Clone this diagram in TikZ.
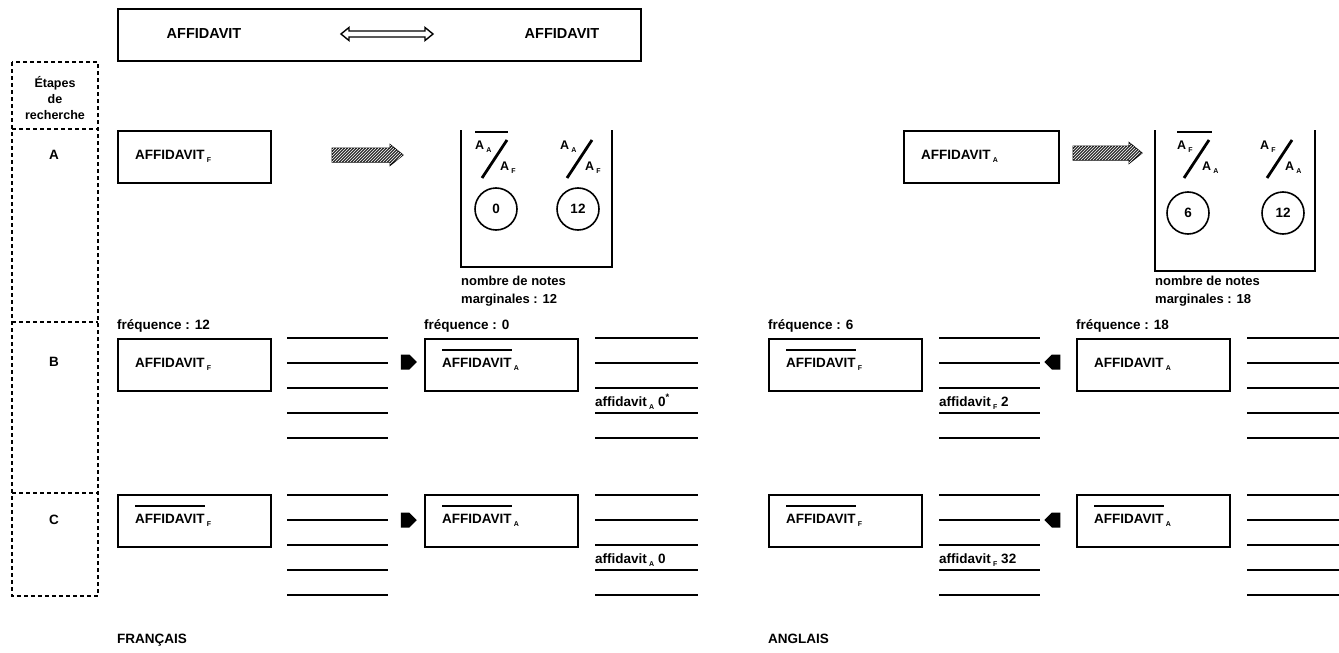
\documentclass[tikz,border=0pt]{standalone}
\usepackage{fontspec}
\setmainfont{Liberation Sans}
\usepackage{tikz}
\usetikzlibrary{shapes.arrows,patterns,positioning}
\newcommand{\sbs}[1]{\,\raisebox{-0.5ex}{\fontsize{7}{8}\selectfont #1}}
\newcommand{\barre}[1]{\setbox0\hbox{#1}\rlap{\rule[\dimexpr\ht0+7pt\relax]{\wd0}{1.3pt}}\box0}
\newcommand{\fiches}[3]{\foreach \k in {0,...,4} {\draw[fiche] (#1,#2+25*\k) -- (#3,#2+25*\k);}}
\newcommand{\rapport}[5]{%
	\node[lettre] (#5h) at (#1,#2) {A\sbs{#3}};
	\draw[oblique] (#1+7,#2+31) -- (#1+32,#2-7);
	\node[lettre] (#5b) at (#1+25,#2+21) {A\sbs{#4}};}
\newcommand{\hachee}[3]{\draw[hachure] (#1,#3-7) -- (#2-13,#3-7) -- (#2-13,#3-10.5) -- (#2,#3) -- (#2-13,#3+10.5) -- (#2-13,#3+7) -- (#1,#3+7) -- cycle;}
\tikzset{
	boite/.style={draw, line width=2.4pt, minimum width=153pt, minimum height=52pt, inner sep=0pt, anchor=north west},
	texte/.style={inner sep=0pt, anchor=base west},
	lettre/.style={inner sep=0pt, anchor=west, font=\bfseries\fontsize{12.5}{14}\selectfont},
	fiche/.style={line width=2.5pt},
	oblique/.style={line width=2.8pt},
	cadre/.style={line width=2.4pt},
	pointille/.style={line width=1.4pt, dash pattern=on 4pt off 3pt},
	rond/.style={draw, circle, line width=1.6pt, minimum size=42pt, inner sep=0pt},
	hachure/.style={draw, line width=1pt, fill=black!80, postaction={pattern=north east lines, pattern color=white}},
	fleche/.style={single arrow, fill, minimum height=16pt, minimum width=15pt, single arrow head extend=0pt, inner sep=0pt}
}
\begin{document}
\begin{tikzpicture}[x=1pt, y=-1pt, font=\bfseries\fontsize{13.5}{16}\selectfont]
		\useasboundingbox (0,0) rectangle (1339,653);
		% Title
		\node[boite, minimum width=523pt] (titre) at (117,8) {};
		\node[font=\bfseries\fontsize{14.5}{16}\selectfont] (motF) at (204,34) {AFFIDAVIT};
		\node[font=\bfseries\fontsize{14.5}{16}\selectfont] (motA) at (562,34) {AFFIDAVIT};
		\draw[line width=1.4pt, fill=white] (341,34) -- (349,27.5) -- (349,31) -- (425,31) -- (425,27.5) -- (433,34) -- (425,40.5) -- (425,37) -- (349,37) -- (349,40.5) -- cycle;
		% Research steps
		\draw[pointille] (12,62) rectangle (98,596);
		\foreach \y in {129,322,493} \draw[pointille] (12,\y) -- (98,\y);
		\node[align=center, font=\bfseries\fontsize{12.5}{16}\selectfont] (etapes) at (55,98) {Étapes\\de\\recherche};
		\node (etA) at (54,155) {A};
		\node (etB) at (54,362) {B};
		\node (etC) at (54,520) {C};
		% Step A, French
		\node[boite] (bAF) at (117,130) {};
		\node[texte] (tAF) at ([shift={(18,29)}]bAF.north west) {AFFIDAVIT\sbs{F}};
		\hachee{332}{403}{155}
		\draw[cadre] (461,130) -- (461,267) -- (612,267) -- (612,130);
		\draw[line width=1.5pt] (475,132) -- (508,132);
		\rapport{475}{147}{A}{F}{rA}
		\rapport{560}{147}{A}{F}{rB}
		\node[rond] (nAF) at (496,209) {0};
		\node[rond] (nAFb) at (578,209) {12};
		\node[texte, align=left, font=\bfseries\fontsize{13}{18}\selectfont] (noteF) at (461,303) {nombre de notes\\marginales : 12};
		% Step A, English
		\node[boite, minimum width=155pt] (bAA) at (903,130) {};
		\node[texte] (tAA) at ([shift={(18,29)}]bAA.north west) {AFFIDAVIT\sbs{A}};
		\hachee{1073}{1142}{153}
		\draw[cadre] (1155,130) -- (1155,271) -- (1315,271) -- (1315,130);
		\draw[line width=1.5pt] (1177,132) -- (1212,132);
		\rapport{1177}{147}{F}{A}{rC}
		\rapport{1260}{147}{F}{A}{rD}
		\node[rond] (nAA) at (1188,213) {6};
		\node[rond] (nAAb) at (1283,213) {12};
		\node[texte, align=left, font=\bfseries\fontsize{13}{18}\selectfont] (noteA) at (1155,303) {nombre de notes\\marginales : 18};
		% Step B
		\node[texte] (fq1) at (117,329) {fréquence : 12};
		\node[boite] (bBF) at (117,338) {};
		\node[texte] at ([shift={(18,29)}]bBF.north west) {AFFIDAVIT\sbs{F}};
		\fiches{287}{338}{388}
		\node[fleche] (fB1) at (405,362) {};
		\node[texte] (fq2) at (424,329) {fréquence : 0};
		\node[boite] (bBA) at (424,338) {};
		\node[texte] at ([shift={(18,29)}]bBA.north west) {\barre{AFFIDAVIT}\sbs{A}};
		\fiches{595}{338}{698}
		\node[texte] (rsB1) at (595,406) {affidavit\sbs{A} 0\textsuperscript{*}};
		\node[texte] (fq3) at (768,329) {fréquence : 6};
		\node[boite] (bBF2) at (768,338) {};
		\node[texte] at ([shift={(18,29)}]bBF2.north west) {\barre{AFFIDAVIT}\sbs{F}};
		\fiches{939}{338}{1040}
		\node[texte] (rsB2) at (939,406) {affidavit\sbs{F} 2};
		\node[fleche, shape border rotate=180] (fB2) at (1056,362) {};
		\node[texte] (fq4) at (1076,329) {fréquence : 18};
		\node[boite] (bBA2) at (1076,338) {};
		\node[texte] at ([shift={(18,29)}]bBA2.north west) {AFFIDAVIT\sbs{A}};
		\fiches{1247}{338}{1339}
		% Step C
		\node[boite] (bCF) at (117,494) {};
		\node[texte] at ([shift={(18,29)}]bCF.north west) {\barre{AFFIDAVIT}\sbs{F}};
		\fiches{287}{495}{388}
		\node[fleche] (fC1) at (405,520) {};
		\node[boite] (bCA) at (424,494) {};
		\node[texte] at ([shift={(18,29)}]bCA.north west) {\barre{AFFIDAVIT}\sbs{A}};
		\fiches{595}{495}{698}
		\node[texte] (rsC1) at (595,563) {\barre{affidavit}\sbs{A} 0};
		\node[boite] (bCF2) at (768,494) {};
		\node[texte] at ([shift={(18,29)}]bCF2.north west) {\barre{AFFIDAVIT}\sbs{F}};
		\fiches{939}{495}{1040}
		\node[texte] (rsC2) at (939,563) {\barre{affidavit}\sbs{F} 32};
		\node[fleche, shape border rotate=180] (fC2) at (1056,520) {};
		\node[boite] (bCA2) at (1076,494) {};
		\node[texte] at ([shift={(18,29)}]bCA2.north west) {\barre{AFFIDAVIT}\sbs{A}};
		\fiches{1247}{495}{1339}
		% Languages
		\node[texte] (fr) at (117,643) {FRANÇAIS};
		\node[texte] (en) at (768,643) {ANGLAIS};
	\end{tikzpicture}
\end{document}
